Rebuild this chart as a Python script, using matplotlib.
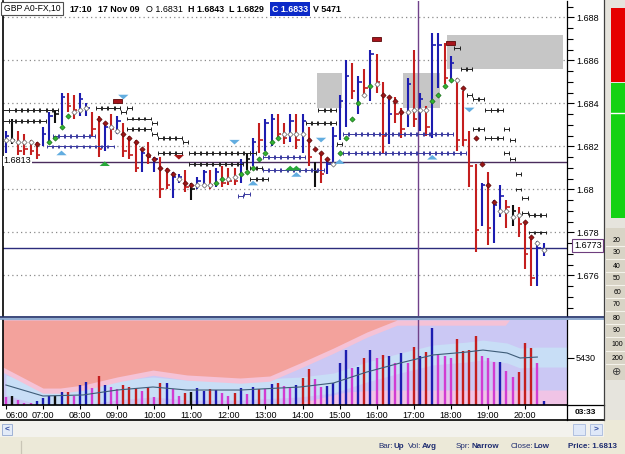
import numpy as np
import matplotlib
matplotlib.use("Agg")
import matplotlib.pyplot as plt
from matplotlib.patches import Rectangle
from matplotlib.lines import Line2D
from matplotlib.path import Path
from matplotlib.ticker import MultipleLocator

plt.rcParams['font.family'] = ['Liberation Sans', 'DejaVu Sans']

W, H = 625, 454

# 10 minute bars, index 0 = 06:00, last = 20:30
bar_high = [1.6827, 1.6833, 1.6827, 1.6826, 1.6823, 1.6822, 1.6829, 1.6836, 1.6837, 1.6845,
            1.6845, 1.6844, 1.6845, 1.6840, 1.6836, 1.6834, 1.6831, 1.6835, 1.6834, 1.6831,
            1.6825, 1.6823, 1.6819, 1.6822, 1.6815, 1.6815, 1.6810, 1.6808, 1.6807, 1.6809,
            1.6803, 1.6806, 1.6809, 1.6809, 1.6810, 1.6811, 1.6810, 1.6810, 1.6814, 1.6817,
            1.6824, 1.6831, 1.6833, 1.6835, 1.6835, 1.6831, 1.6835, 1.6835, 1.6835, 1.6829,
            1.6813, 1.6817, 1.6814, 1.6829, 1.6844, 1.6860, 1.6859, 1.6853, 1.6856, 1.6865,
            1.6863, 1.6850, 1.6842, 1.6843, 1.6838, 1.6852, 1.6865, 1.6845, 1.6839, 1.6873,
            1.6873, 1.6868, 1.6862, 1.6852, 1.6846, 1.6827, 1.6812, 1.6803, 1.6808, 1.6795,
            1.6802, 1.6795, 1.6793, 1.6792, 1.6784, 1.6777, 1.6776, 1.6775]
bar_low = [1.6817, 1.6821, 1.6816, 1.6816, 1.6816, 1.6814, 1.6820, 1.6821, 1.6831, 1.6830,
           1.6836, 1.6833, 1.6834, 1.6834, 1.6825, 1.6815, 1.6818, 1.6823, 1.6826, 1.6815,
           1.6814, 1.6808, 1.6808, 1.6812, 1.6808, 1.6796, 1.6800, 1.6796, 1.6803, 1.6799,
           1.6795, 1.6800, 1.6801, 1.6800, 1.6801, 1.6801, 1.6802, 1.6802, 1.6803, 1.6809,
           1.6811, 1.6817, 1.6818, 1.6820, 1.6823, 1.6821, 1.6822, 1.6819, 1.6817, 1.6811,
           1.6801, 1.6803, 1.6807, 1.6811, 1.6823, 1.6829, 1.6842, 1.6835, 1.6843, 1.6841,
           1.6845, 1.6817, 1.6821, 1.6831, 1.6824, 1.6829, 1.6829, 1.6827, 1.6825, 1.6824,
           1.6847, 1.6849, 1.6851, 1.6818, 1.6820, 1.6801, 1.6771, 1.6783, 1.6774, 1.6775,
           1.6787, 1.6782, 1.6783, 1.6778, 1.6763, 1.6755, 1.6755, 1.6769]
bar_close = [1.6825, 1.6823, 1.6818, 1.6819, 1.6818, 1.6816, 1.6826, 1.6834, 1.6835, 1.6843,
             1.6839, 1.6837, 1.6842, 1.6838, 1.6828, 1.6819, 1.6829, 1.6828, 1.6832, 1.6818,
             1.6816, 1.6810, 1.6817, 1.6815, 1.6814, 1.6800, 1.6802, 1.6806, 1.6806, 1.6801,
             1.6800, 1.6804, 1.6808, 1.6802, 1.6808, 1.6803, 1.6804, 1.6804, 1.6812, 1.6814,
             1.6822, 1.6823, 1.6831, 1.6833, 1.6826, 1.6824, 1.6832, 1.6823, 1.6832, 1.6815,
             1.6808, 1.6807, 1.6812, 1.6825, 1.6841, 1.6853, 1.6846, 1.6850, 1.6847, 1.6863,
             1.6850, 1.6825, 1.6835, 1.6835, 1.6828, 1.6849, 1.6833, 1.6842, 1.6829, 1.6867,
             1.6867, 1.6852, 1.6859, 1.6823, 1.6823, 1.6811, 1.6781, 1.6802, 1.6782, 1.6793,
             1.6797, 1.6792, 1.6790, 1.6784, 1.6770, 1.6759, 1.6773, 1.6772]
bar_color = ("bkrrrrbbkb" "rrbbrrbrbr" "rrbrbrrbbr" "kbbrbrrrbk" "brbbrrbrbr"
             "krbbbbrbrb" "rrbrrbrbrb" "brbrrrrbrb" "brkrrrbb")

# trend dots (w = white, g = green, r = dark red, - = none)
nan = np.nan
dot_price = [1.6823, 1.6823, 1.6822, 1.6822, 1.6822, 1.6821, nan, 1.6822, 1.6824, 1.6829,
             1.6834, 1.6836, 1.6837, 1.6838, nan, 1.6833, 1.6831, 1.6829, 1.6827, 1.6826,
             1.6824, 1.6822, 1.6819, 1.6816, 1.6814, 1.6810, 1.6809, 1.6807, 1.6805, 1.6803,
             1.6802, 1.6802, 1.6802, 1.6802, 1.6803, 1.6805, 1.6805, 1.6806, 1.6807, 1.6808,
             1.6810, 1.6814, 1.6817, 1.6822, 1.6824, 1.6826, 1.6826, 1.6826, 1.6826, 1.6823,
             1.6819, 1.6817, 1.6814, 1.6812, 1.6817, 1.6824, 1.6833, 1.6840, 1.6844, 1.6848,
             1.6849, 1.6844, 1.6843, 1.6841, 1.6836, 1.6836, 1.6837, 1.6837, 1.6837, 1.6841,
             1.6844, 1.6848, 1.6851, 1.6851, 1.6847, nan, 1.6824, 1.6812, 1.6802, 1.6794,
             1.6790, 1.6790, 1.6787, 1.6788, 1.6785, 1.6778, 1.6775, 1.6772]
dot_kind = ("wwwwwr-ggg" "gwww-rrwwr" "rrrrrrrrwr" "rwwwggwwgg" "gggggwwwwr"
            "rrrwggggwg" "wrrrrwwwwg" "gggwr-rrrr" "wwwwrrww")

# "H" level rows: first bar, last bar, price, colour
h_first = [0, 0, 8, 7, 15, 19, 20, 20, 24, 20, 24, 25, 29, 25, 30, 30, 42, 42, 40, 40, 38, 39,
           51, 49, 51, 55, 55, 54, 73, 74, 75, 76, 78, 76, 81, 78, 82, 81, 82, 83, 83, 84, 84, 85, 85]
h_last = [8, 6, 14, 17, 18, 19, 20, 23, 24, 23, 24, 28, 29, 28, 40, 38, 48, 51, 41, 42, 38, 39,
          53, 50, 53, 72, 74, 54, 73, 75, 75, 77, 80, 77, 81, 80, 82, 81, 82, 83, 83, 84, 84, 87, 87]
h_price = [1.6837, 1.6832, 1.6825, 1.6820, 1.6838, 1.6836, 1.6838, 1.6833, 1.6831, 1.6828, 1.6826,
           1.6824, 1.6822, 1.6817, 1.6817, 1.6812, 1.6815, 1.6809, 1.6810, 1.6805, 1.6797, 1.6798,
           1.6837, 1.6831, 1.6831, 1.6826, 1.6817, 1.6821, 1.6866, 1.6856, 1.6844, 1.6842, 1.6837,
           1.6828, 1.6828, 1.6824, 1.6823, 1.6817, 1.6814, 1.6807, 1.6800, 1.6796, 1.6789, 1.6788, 1.6780]
h_color = "kkbbkkkkkkkkkkkkbbkkbbkkkbbkkkkkkkkkkkkkkkkkk"

# signal triangles
tri_bar = [19, 9, 37, 28, 16, 40, 46, 47, 47, 51, 54, 69, 75]
tri_price = [1.6843, 1.6817, 1.6822, 1.6815, 1.6812, 1.6803, 1.6810, 1.6810, 1.6807,
             1.6823, 1.6813, 1.6815, 1.6837]
tri_dir = "vuvvuuuuuvuuv"
tri_col = "cccrgcggccccc"

# dark red flags
flag_bar = [18, 60, 72]
flag_price = [1.6841, 1.6870, 1.6868]

# grey zones
zone_x0 = [50.4, 64.3, 71.4]
zone_x1 = [54.4, 70.2, 90.1]
zone_lo = [1.6838, 1.6838, 1.6856]
zone_hi = [1.6854, 1.6854, 1.6872]

price_ticks = [1.676, 1.678, 1.680, 1.682, 1.684, 1.686, 1.688]
price_labels = ["1.676", "1.678", "1.68", "1.682", "1.684", "1.686", "1.688"]
cross_price = 1.6813
last_price = 1.6773
cross_bar = 66.7

# volume
volume = [920, 1040, 580, 230, 230, 460, 810, 1040, 1040, 1500,
          1500, 1040, 2310, 2660, 1960, 3350, 2310, 2080, 1850, 2310,
          2080, 1960, 1620, 2080, 920, 2540, 2540, 1850, 1040, 1390,
          1500, 1960, 1620, 1850, 1730, 1390, 1040, 1390, 1960, 1270,
          2080, 1850, 1850, 2430, 2540, 2190, 2080, 2310, 3120, 4160,
          3000, 2080, 2190, 2540, 4850, 6350, 4270, 4390, 5430, 6350,
          5430, 5780, 5660, 4850, 6010, 4850, 6700, 5660, 6120, 8890,
          5780, 5660, 5430, 7620, 6240, 6350, 7970, 5660, 5430, 4970,
          4970, 3930, 3230, 3810, 7160, 6580, 4850, 460]
vol_color = ("mkmmmbbbkb" "rmbbmrbmmr" "rrmrmrbmmr" "kbbrbmmrbm" "brmbrmmbrr"
             "mmbbbbmbrb" "mrbmbmrbrb" "mmmrrrrmmm" "bmmrrrmb")
ma_bar = [0, 6, 12.5, 18, 23.8, 29.3, 37.9, 47.6, 53, 58.4, 63.8, 69.1, 74.6, 77.2, 81.1, 83.2, 86]
ma_val = [2310, 1040, 1160, 1730, 2080, 1730, 1730, 2080, 2540, 3810, 4850, 5780, 6120, 6350, 6010, 5430, 5540]
band_bar = ma_bar + [90.8]
band_mid = ma_val + [5540]
salmon_bar = [-0.5, 6, 8.8, 12.5, 18, 23.8, 29.3, 37.9, 42.7, 47.6, 53, 58.4, 63.3]
salmon_val = [4390, 1960, 1960, 2310, 3240, 4040, 3470, 3120, 3350, 4850, 6580, 8430, 9820]
pink_bar = [-0.5, 6, 8.8, 12.5, 18, 23.8, 29.3, 37.9, 42.7, 47.6, 53, 58.4, 63.3, 80.8, 81.5, 90.8]
pink_val = [3790, 1360, 1360, 1710, 2640, 3440, 2870, 2520, 2750, 4250, 5980, 7830, 9220, 9220, 9820, 9820]
lowpink_bar = [46, 55, 60, 90.8]
lowpink_val = [0, 1500, 1730, 1730]
vol_top = 9820
hours = ["06:00", "07:00", "08:00", "09:00", "10:00", "11:00", "12:00", "13:00",
         "14:00", "15:00", "16:00", "17:00", "18:00", "19:00", "20:00"]

colmap = {'b': '#1c1cb0', 'r': '#c41e1e', 'k': '#101010', 'm': '#d23cd2'}
dotcol = {'w': ('white', '#666666'), 'g': ('#2fb52f', '#1d6e1d'), 'r': ('#9c1414', '#5a0a0a')}
tricol = {'c': '#62ade0', 'g': '#28a83a', 'r': '#a81818'}

fig = plt.figure(figsize=(6.25, 4.54), dpi=100)
fig.patch.set_facecolor('#ece9d8')


def box(x0, y0, x1, y1):
    return [x0 / W, 1 - y1 / H, (x1 - x0) / W, (y1 - y0) / H]


def fline(x0, y0, x1, y1, **kw):
    fig.add_artist(Line2D([x0 / W, x1 / W], [1 - y0 / H, 1 - y1 / H], transform=fig.transFigure, **kw))


def frect(x0, y0, x1, y1, z=-1, **kw):
    fig.add_artist(Rectangle((x0 / W, 1 - y1 / H), (x1 - x0) / W, (y1 - y0) / H,
                             transform=fig.transFigure, zorder=z, **kw))


def ftext(x, y, s, **kw):
    kw.setdefault('va', 'center')
    fig.text(x / W, 1 - y / H, s, **kw)


# backgrounds
frect(0, 0, 604, 420, facecolor='white', edgecolor='none')
frect(604, 0, 625, 420, facecolor='#e6e4dd', edgecolor='none')
frect(0, 421, 604, 437, facecolor='#f3f2ed', edgecolor='none')

idx = np.arange(len(bar_high))

# ---- price panel
ax = fig.add_axes(box(3, 1, 567, 316))
ax.set_facecolor('white')
ax.set_xlim(-0.47, 90.8)
ax.set_ylim(1.674116, 1.688767)
for s in ['top', 'bottom']:
    ax.spines[s].set_visible(False)
ax.spines['left'].set_linewidth(1.2)
ax.spines['right'].set_linewidth(0.9)
ax.set_xticks([])
ax.yaxis.tick_right()
ax.set_yticks(price_ticks)
ax.set_yticklabels(price_labels)
ax.yaxis.set_minor_locator(MultipleLocator(0.0005))
ax.tick_params(axis='y', which='major', direction='out', length=5, width=0.8, labelsize=6.5, pad=1.5)
ax.tick_params(axis='y', which='minor', direction='out', length=4, width=0.8)
for p in price_ticks:
    ax.axhline(p, color='#8a8a8a', lw=0.9, ls=(0, (1, 2.5)), zorder=1)

for x0, x1, lo, hi in zip(zone_x0, zone_x1, zone_lo, zone_hi):
    ax.add_patch(Rectangle((x0, lo), x1 - x0, hi - lo, facecolor='#c6c6c6', edgecolor='none', zorder=1.5))

ax.axhline(cross_price, color='#4a2c5c', lw=1.0, zorder=2)
ax.axhline(last_price, color='#2c2c7c', lw=1.0, zorder=2)
ax.axvline(cross_bar, color='#70418a', lw=1.0, zorder=2)

cols = [colmap[c] for c in bar_color]
ax.vlines(idx, bar_low, bar_high, colors=cols, lw=1.5, zorder=3)
ax.hlines(bar_close, idx, idx + 0.55, colors=cols, lw=1.2, zorder=3)

h_path = Path([(-1, -0.75), (-1, 0.75), (1, -0.75), (1, 0.75), (-1, 0), (1, 0)],
              [Path.MOVETO, Path.LINETO] * 3)
for a, b, p, c in zip(h_first, h_last, h_price, h_color):
    xs = np.arange(a, b + 1)
    ax.scatter(xs, [p] * len(xs), marker=h_path, s=14, facecolors='none',
               edgecolors='#222222' if c == 'k' else '#3a3aa0', linewidths=0.7, zorder=3)

for k in 'wgr':
    sel = [i for i, c in enumerate(dot_kind) if c == k]
    ax.scatter(idx[sel], np.array(dot_price)[sel], marker='D', s=7,
               facecolors=dotcol[k][0], edgecolors=dotcol[k][1], linewidths=0.5, zorder=4)

up_tri = Path([(-1, -0.45), (1, -0.45), (0, 0.45), (-1, -0.45)])
dn_tri = Path([(-1, 0.45), (1, 0.45), (0, -0.45), (-1, 0.45)])
for b, p, d, c in zip(tri_bar, tri_price, tri_dir, tri_col):
    ax.scatter([b], [p], marker=up_tri if d == 'u' else dn_tri, s=55,
               color=tricol[c], edgecolors='none', zorder=4)

for b, p in zip(flag_bar, flag_price):
    ax.add_patch(Rectangle((b - 0.75, p - 0.0001), 1.5, 0.0002, facecolor='#a8141c',
                           edgecolor='#5a0808', lw=0.6, zorder=4))

ax.text(-0.4, cross_price + 0.00003, "1.6813", fontsize=6.5, ha='left', va='center', zorder=5,
        bbox=dict(facecolor='white', edgecolor='none', pad=0.6))

# ---- volume panel
vax = fig.add_axes(box(3, 320, 567, 405))
vax.set_xlim(-0.47, 90.8)
vax.set_ylim(0, vol_top)
vax.set_facecolor('#cbc8f4')
vax.fill_between(band_bar, np.array(band_mid) - 1150, np.array(band_mid) + 1150,
                 color='#c8def6', lw=0, zorder=0.5)
vax.fill_between(lowpink_bar, 0, lowpink_val, color='#f0c4e6', lw=0, zorder=0.6)
vax.fill_between(pink_bar, pink_val, vol_top, color='#f5c2d6', lw=0, zorder=0.7)
vax.fill_between(salmon_bar, salmon_val, vol_top, color='#f3a29c', lw=0, zorder=0.8)
vax.vlines(idx, 0, volume, colors=[colmap[c] for c in vol_color], lw=1.7, zorder=2)
vax.plot(ma_bar, ma_val, color='#3e5c78', lw=0.8, zorder=3)
vax.axvline(cross_bar, color='#70418a', lw=1.0, zorder=2.5)
vax.spines['top'].set_visible(False)
vax.spines['left'].set_linewidth(1.2)
vax.spines['bottom'].set_linewidth(1.2)
vax.spines['right'].set_linewidth(0.9)
vax.yaxis.tick_right()
vax.set_yticks([5430])
vax.set_yticklabels(["5430"])
vax.tick_params(axis='y', direction='out', length=5, width=0.8, labelsize=6.5, pad=1.5)
vax.set_xticks(np.arange(len(hours)) * 6)
vax.set_xticklabels(hours)
vax.tick_params(axis='x', direction='out', length=3, width=0.8, labelsize=6.5, pad=1.5)
vax.get_xticklabels()[0].set_ha('left')

# frame lines
fline(0, 316.6, 604, 316.6, color='#1d2b66', lw=1.2)
fline(0, 318.7, 604, 318.7, color='#7c9cc8', lw=1.2)
fline(0, 420, 604, 420, color='black', lw=1.2)
fline(567, 405, 567, 420, color='black', lw=0.9)
fline(567, 405, 604, 405, color='black', lw=0.9)
fline(603.5, 0, 603.5, 420, color='#404040', lw=0.9)
ftext(585, 413, "03:33", fontsize=6, weight='bold', ha='center')

# header
frect(1.5, 2, 63, 15, z=5, facecolor='white', edgecolor='#505050', lw=0.8)
ftext(4, 8.5, "GBP A0-FX,10", fontsize=6.2, zorder=6)
hdr = [("17:10", 69, 'bold'), ("17 Nov 09", 98, 'bold'), ("O 1.6831", 146, 'normal'),
       ("H 1.6843", 188, 'bold'), ("L 1.6829", 229, 'bold'), ("V 5471", 313, 'bold')]
for s, x, w in hdr:
    ftext(x, 9, s, fontsize=6.4, weight=w)
ftext(272, 9, "C 1.6833", fontsize=6.4, weight='bold', color='white',
      bbox=dict(facecolor='#0c2ac8', edgecolor='none', pad=1.5))

ftext(574, 245.5, "1.6773", fontsize=6.5, zorder=6,
      bbox=dict(facecolor='white', edgecolor='#6e3e7e', pad=1.3, lw=0.8))

# right side strip
frect(611, 8, 625, 82, z=1, facecolor='#e60000', edgecolor='none')
frect(611, 83, 625, 218, z=1, facecolor='#14d214', edgecolor='none')
fline(611, 113, 625, 113, color='white', lw=1.0)
zoom_levels = ["20", "30", "40", "50", "60", "70", "80", "90", "100", "200"]
zoom_y = [240, 253, 266, 279, 292, 305, 318, 331, 345, 358]
frect(606, 228, 625, 380, z=1, facecolor='#d8d4c6', edgecolor='none')
for s, y in zip(zoom_levels, zoom_y):
    ftext(617, y, s, fontsize=5, ha='center')
    fline(606, y + 6, 625, y + 6, color='#f4f2ea', lw=0.8)
ftext(617, 372, "\u2295", fontsize=8, ha='center', color='#404040')

# bottom bar
frect(2, 424, 12, 435, z=1, facecolor='#e3ebf8', edgecolor='#9fb2d6', lw=0.7)
ftext(7, 429.5, "<", fontsize=6, ha='center', color='#2a45a0', weight='bold')
frect(573, 424, 585, 435, z=1, facecolor='#dfe8f8', edgecolor='#b0c0e0', lw=0.7)
frect(590, 424, 602, 435, z=1, facecolor='#dfe8f8', edgecolor='#b0c0e0', lw=0.7)
ftext(596, 429.5, ">", fontsize=6, ha='center', color='#2a45a0', weight='bold')
fline(21, 441, 21, 454, color='#c9c5b6', lw=0.9)
status = [("Bar:", 378, 'normal'), ("Up", 394, 'bold'), ("Vol:", 408, 'normal'), ("Avg", 422, 'bold'),
          ("Spr:", 456, 'normal'), ("Narrow", 472, 'bold'), ("Close:", 511, 'normal'), ("Low", 534, 'bold'),
          ("Price: 1.6813", 568, 'bold')]
for s, x, w in status:
    ftext(x, 446, s, fontsize=5.8, weight=w, color='#1e2c70')

fig.savefig("out.png", dpi=100, facecolor=fig.get_facecolor())
